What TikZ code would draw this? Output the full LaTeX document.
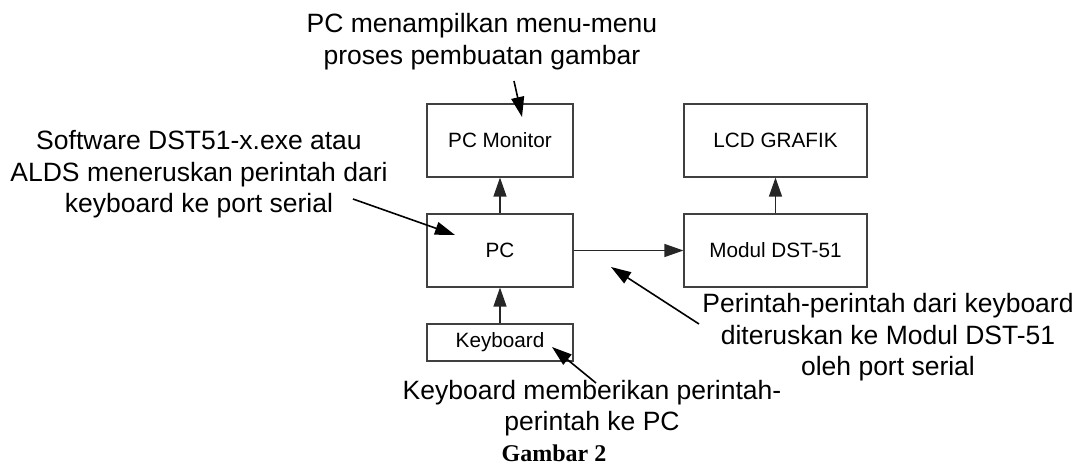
\documentclass[tikz,border=0pt]{standalone}
\usepackage{fontspec}
\setmainfont{Liberation Sans}
\newfontfamily\captionfont{Liberation Serif}
\usetikzlibrary{arrows.meta}
\tikzset{
  blk/.style={draw=black!75, line width=1.1pt, inner sep=0pt, font=\fontsize{20.7}{24}\selectfont},
  link/.style={draw=black!85, line width=1.2pt, -{Triangle[length=19pt,width=13pt]}},
  note/.style={align=center, inner sep=0pt, font=\fontsize{26.5}{31.5}\selectfont},
  callout/.style={draw=black, line width=1.6pt, -{Triangle[length=20pt,width=13pt]}}
}
\begin{document}
\begin{tikzpicture}[x=1pt,y=-1pt]
\useasboundingbox (0,0) rectangle (1082,465);
% boxes
\node[blk, minimum width=146pt, minimum height=73pt] (mon) at (500,140.5) {PC Monitor};
\node[blk, minimum width=183pt, minimum height=73pt] (lcd) at (775.5,140.5) {LCD GRAFIK};
\node[blk, minimum width=146pt, minimum height=73pt] (pc) at (500,250.5) {PC};
\node[blk, minimum width=183pt, minimum height=73pt] (mod) at (775.5,250.5) {Modul DST-51};
\node[blk, minimum width=146pt, minimum height=37pt] (kb) at (500,342.5) {Keyboard};
% connectors
\draw[link] (pc.north) -- (mon.south);
\draw[link] (kb.north) -- (pc.south);
\draw[link] (mod.north) -- (lcd.south);
\draw[link] (pc.east) -- (mod.west);
% annotations
\node[note] (ntop) at (482,41.6) {PC menampilkan menu-menu\\proses pembuatan gambar};
\node[note] (nleft) at (199,174.6) {Software DST51-x.exe atau\\ALDS meneruskan perintah dari\\keyboard ke port serial};
\node[note] (nright) at (888,337.2) {Perintah-perintah dari keyboard\\diteruskan ke Modul DST-51\\oleh port serial};
\node[note] (nbot) at (592,408.3) {Keyboard memberikan perintah-\\perintah ke PC};
\node[anchor=base, inner sep=0pt, font=\captionfont\bfseries\fontsize{24}{28}\selectfont] (cap) at (554,461.5) {Gambar 2};
% callout ends
\coordinate (t1) at (514,81);   \coordinate (h1) at (522,117);
\coordinate (t2) at (353,199);  \coordinate (h2) at (455,235);
\coordinate (t3) at (699,324);  \coordinate (h3) at (611,267);
\coordinate (t4) at (596,383);  \coordinate (h4) at (552,347);
\draw[callout] (t1) -- (h1);
\draw[callout] (t2) -- (h2);
\draw[callout] (t3) -- (h3);
\draw[callout] (t4) -- (h4);
\end{tikzpicture}
\end{document}
